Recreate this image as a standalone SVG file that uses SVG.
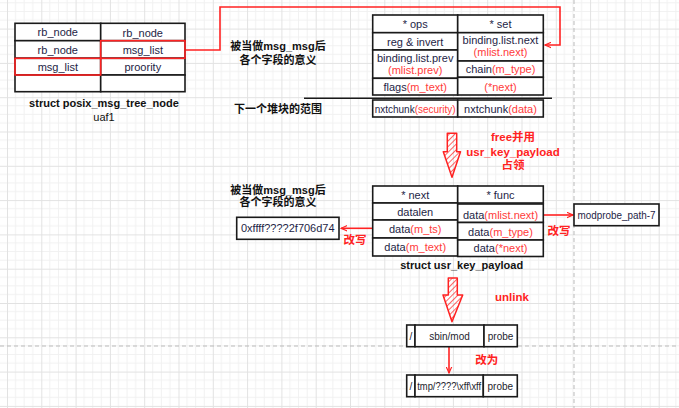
<svg xmlns="http://www.w3.org/2000/svg" width="679" height="408" viewBox="0 0 679 408">
<defs>
<pattern id="grid" patternUnits="userSpaceOnUse" x="7" y="-5.7" width="34.3" height="34.3">
<path d="M8.575,0V34.3M17.15,0V34.3M25.725,0V34.3M0,8.575H34.3M0,17.15H34.3M0,25.725H34.3" stroke="#f1f1f1" stroke-width="1" fill="none"/>
<path d="M0.5,0V34.3M0,0.5H34.3" stroke="#e2e2e2" stroke-width="1" fill="none"/>
</pattern>
<pattern id="hatch" patternUnits="userSpaceOnUse" width="4" height="4" patternTransform="rotate(45)">
<line x1="0" y1="0" x2="0" y2="4" stroke="#f22" stroke-width="1.4"/>
</pattern>
<marker id="ah" viewBox="0 0 10 10" refX="9" refY="5" markerWidth="7" markerHeight="7" orient="auto-start-reverse" markerUnits="userSpaceOnUse">
<path d="M0,1L9,5L0,9" fill="none" stroke="#f22" stroke-width="1.6"/>
</marker>
</defs>
<style>
.c{fill:#fff;stroke:#1a1a1a;stroke-width:1.6}
.r{fill:none;stroke:#f22;stroke-width:1.6}
.t{font-family:"Liberation Sans","Noto Sans",sans-serif;font-size:11px;fill:#1e1e46;text-anchor:middle}
.p{font-family:"Liberation Sans",sans-serif;font-size:10px;fill:#1e1e2e;text-anchor:middle}
.red{fill:#ff3b3b}
.b{font-family:"Liberation Sans","Noto Sans CJK SC",sans-serif;font-size:11px;font-weight:bold;fill:#111;text-anchor:middle}
.rb{font-family:"Liberation Sans","Noto Sans CJK SC",sans-serif;font-size:11.5px;font-weight:bold;fill:#ff2222;text-anchor:middle}
.ln{fill:none;stroke:#f22;stroke-width:1.6}
.big{fill:url(#hatch);stroke:#f22;stroke-width:1.5;stroke-linejoin:round}
</style>
<rect width="679" height="408" fill="#fff"/>
<rect width="679" height="408" fill="url(#grid)"/>
<line x1="574" y1="0" x2="574" y2="408" stroke="#bbb" stroke-width="1" stroke-dasharray="4 3"/>
<line x1="0" y1="346" x2="679" y2="346" stroke="#bbb" stroke-width="1" stroke-dasharray="4 3"/>

<g id="connectors">
<path class="ln" d="M185,50H220V7H560V45H545" marker-end="url(#ah)"/>
<line x1="304" y1="98.3" x2="552" y2="98.3" stroke="#1a1a1a" stroke-width="1.4"/>
<path class="big" d="M447.3,133.3L456.7,133.3L456.7,151.7L460.5,151.7L452,177.3L443.3,151.7L447.3,151.7Z"/>
<path class="ln" d="M372.7,228.3H341" marker-end="url(#ah)"/>
<path class="ln" d="M543.3,215H573" marker-end="url(#ah)"/>
<path class="big" d="M448.3,278L457.3,278L457.3,295L462.7,295L452,321.7L443,295L448.3,295Z"/>
<path class="ln" d="M449,347V373" marker-end="url(#ah)"/>
</g>

<g id="posix_msg_tree_node">
<rect class="c" x="15" y="23.3" width="85.7" height="17.4"/>
<rect class="c" x="15" y="40.7" width="85.7" height="17.6"/>
<rect class="c" x="15" y="58.3" width="85.7" height="16.7"/>
<rect class="c" x="15" y="75" width="85.7" height="16.7"/>
<rect class="c" x="100.7" y="23.3" width="84.3" height="17.4"/>
<rect class="c" x="100.7" y="40.7" width="84.3" height="17.6"/>
<rect class="c" x="100.7" y="58.3" width="84.3" height="16.7"/>
<rect class="c" x="100.7" y="75" width="84.3" height="16.7"/>
<rect class="r" x="15" y="58.3" width="85.7" height="16.7"/>
<rect class="r" x="100.7" y="40.7" width="84.3" height="17.6"/>
<text class="t" x="57.8" y="36">rb_node</text>
<text class="t" x="57.8" y="53.5">rb_node</text>
<text class="t" x="57.8" y="70.5">msg_list</text>
<text class="t" x="142.8" y="36.5">rb_node</text>
<text class="t" x="142.8" y="53.5">msg_list</text>
<text class="t" x="142.8" y="71">proority</text>
<text class="b" x="104" y="107">struct posix_msg_tree_node</text>
<text class="b" x="104" y="121" style="font-weight:normal">uaf1</text>
</g>

<g id="msg_msg_view">
<rect class="c" x="372.7" y="15" width="85" height="17.7"/>
<rect class="c" x="372.7" y="32.7" width="85" height="17.3"/>
<rect class="c" x="372.7" y="50" width="85" height="28.3"/>
<rect class="c" x="372.7" y="78.3" width="85" height="16.7"/>
<rect class="c" x="457.7" y="15" width="85.6" height="17.7"/>
<rect class="c" x="457.7" y="32.7" width="85.6" height="28.3"/>
<rect class="c" x="457.7" y="61" width="85.6" height="16.3"/>
<rect class="c" x="457.7" y="77.3" width="85.6" height="17.7"/>
<text class="t" x="415.2" y="28">* ops</text>
<text class="t" x="415.2" y="45.5">reg &amp; invert</text>
<text class="t" x="415.2" y="62">binding.list.prev</text>
<text class="t red" x="415.2" y="74">(mlist.prev)</text>
<text class="t" x="415.2" y="91">flags<tspan class="red">(m_text)</tspan></text>
<text class="t" x="500.5" y="28">* set</text>
<text class="t" x="500.5" y="44">binding.list.next</text>
<text class="t red" x="500.5" y="55.5">(mlist.next)</text>
<text class="t" x="500.5" y="73">chain<tspan class="red">(m_type)</tspan></text>
<text class="t red" x="500.5" y="91">(*next)</text>
<rect class="c" x="372.7" y="100" width="85" height="17"/>
<rect class="c" x="457.7" y="100" width="85.6" height="17"/>
<text class="t" x="415.2" y="113" textLength="81" lengthAdjust="spacingAndGlyphs">nxtchunk<tspan class="red">(security)</tspan></text>
<text class="t" x="500.5" y="113">nxtchunk<tspan class="red">(data)</tspan></text>
</g>

<g id="label_top">
<text class="b" x="278" y="50">被当做msg_msg后</text>
<text class="b" x="278" y="64">各个字段的意义</text>
<text class="b" x="278" y="113">下一个堆块的范围</text>
</g>

<g id="label_free">
<text class="rb" x="513" y="141">free并用</text>
<text class="rb" x="513" y="156">usr_key_payload</text>
<text class="rb" x="513" y="169">占领</text>
</g>

<g id="usr_key_payload">
<rect class="c" x="372.7" y="186" width="85" height="17"/>
<rect class="c" x="372.7" y="203" width="85" height="17"/>
<rect class="c" x="372.7" y="220" width="85" height="18"/>
<rect class="c" x="372.7" y="238" width="85" height="18"/>
<rect class="c" x="457.7" y="186" width="85.6" height="17"/>
<rect class="c" x="457.7" y="204" width="85.6" height="18.5"/>
<rect class="c" x="457.7" y="222.5" width="85.6" height="17.5"/>
<rect class="c" x="457.7" y="240" width="85.6" height="16.5"/>
<text class="t" x="415.2" y="199">* next</text>
<text class="t" x="415.2" y="216">datalen</text>
<text class="t" x="415.2" y="233">data<tspan class="red">(m_ts)</tspan></text>
<text class="t" x="415.2" y="251">data<tspan class="red">(m_text)</tspan></text>
<text class="t" x="500.5" y="199">* func</text>
<text class="t" x="500.5" y="219">data<tspan class="red">(mlist.next)</tspan></text>
<text class="t" x="500.5" y="236">data<tspan class="red">(m_type)</tspan></text>
<text class="t" x="500.5" y="252">data<tspan class="red">(*next)</tspan></text>
<text class="b" x="461.7" y="269">struct usr_key_payload</text>
</g>

<g id="label_mid">
<text class="b" x="278" y="194">被当做msg_msg后</text>
<text class="b" x="278" y="206">各个字段的意义</text>
</g>

<g id="value_box">
<rect class="c" x="236.7" y="217.3" width="102.3" height="22"/>
<text class="t" x="287.8" y="232">0xffff????2f706d74</text>
<text class="rb" x="355" y="244">改写</text>
</g>

<g id="modprobe_box">
<rect class="c" x="574" y="204" width="85" height="21.7"/>
<text class="t" x="616.5" y="219" textLength="78" lengthAdjust="spacingAndGlyphs">modprobe_path-7</text>
<text class="rb" x="559" y="235">改写</text>
</g>

<g id="label_unlink">
<text class="rb" x="512" y="300.5">unlink</text>
</g>

<g id="path_before">
<rect class="c" x="406.7" y="325" width="8.3" height="21.7"/>
<rect class="c" x="415" y="325" width="69" height="21.7"/>
<rect class="c" x="484" y="325" width="33.3" height="21.7"/>
<text class="p" x="410.8" y="339.5">/</text>
<text class="p" x="449.5" y="339.5">sbin/mod</text>
<text class="p" x="500.6" y="340">probe</text>
</g>

<g id="label_change">
<text class="rb" x="486.7" y="364">改为</text>
</g>

<g id="path_after">
<rect class="c" x="406.7" y="375" width="8.3" height="21.7"/>
<rect class="c" x="415" y="375" width="68.3" height="21.7"/>
<rect class="c" x="483.3" y="375" width="34" height="21.7"/>
<text class="p" x="410.8" y="390">/</text>
<text class="p" x="449.2" y="390" textLength="64" lengthAdjust="spacingAndGlyphs">tmp/????\xff\xff</text>
<text class="p" x="500.3" y="390">probe</text>
</g>
</svg>
